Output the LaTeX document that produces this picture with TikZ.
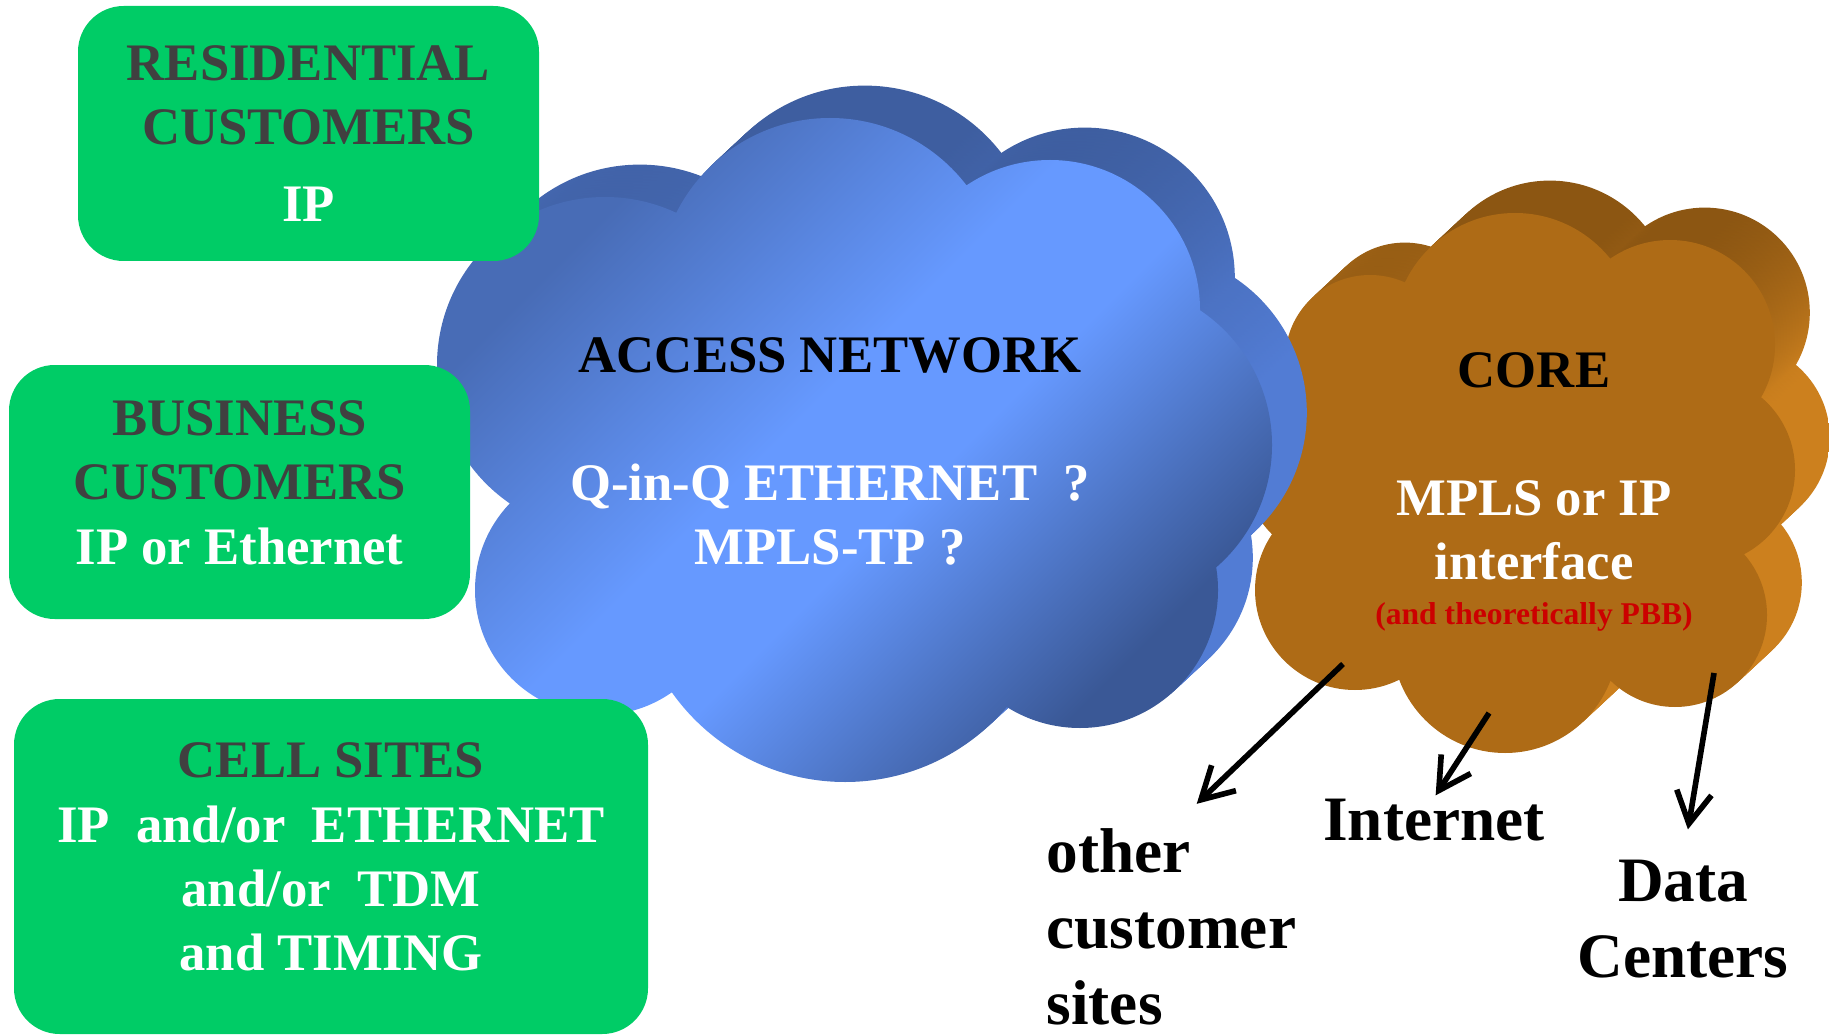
\documentclass[tikz,border=0pt]{standalone}
\usepackage{fontspec}
\setmainfont{Liberation Serif}
\usetikzlibrary{arrows.meta}

\definecolor{boxgreen}{RGB}{0,204,102}
\definecolor{boxtext}{RGB}{64,64,64}
\definecolor{bluelight}{RGB}{102,153,255}
\definecolor{bluetop}{RGB}{72,108,182}
\definecolor{bluedark}{RGB}{58,88,150}
\definecolor{blueedge}{RGB}{62,94,160}
\definecolor{blueside}{RGB}{82,124,212}
\definecolor{coreface}{RGB}{174,107,22}
\definecolor{coretop}{RGB}{140,86,18}
\definecolor{coreside}{RGB}{204,128,30}
\definecolor{pbbred}{RGB}{204,0,0}

%% face of the access cloud: broad light middle, darker corners
\pgfdeclareverticalshading{accessface}{100bp}{color(0bp)=(bluedark); color(27bp)=(bluedark); color(45bp)=(bluelight); color(54bp)=(bluelight); color(73bp)=(bluetop); color(100bp)=(bluetop)}
%% sides of the clouds: dark rim on top, lighter down the right
\pgfdeclareverticalshading{accessdepth}{100bp}{color(0bp)=(blueside); color(55bp)=(blueside); color(72bp)=(blueedge); color(100bp)=(blueedge)}
\pgfdeclareverticalshading{coredepth}{100bp}{color(0bp)=(coreside); color(57bp)=(coreside); color(72bp)=(coretop); color(100bp)=(coretop)}

%% depth of the clouds (px per step, steps go up and right)
\newcommand{\cloudstepx}{2.9}
\newcommand{\cloudstepy}{2.7}

%% puffs of the two clouds, one unit = 1px
\newcommand{\accesspuffs}{(860,450) ellipse (300 and 220)
  (605,365) circle (168) (830,290) circle (172) (1050,310) circle (150)
  (1110,445) circle (162) (1080,590) circle (138) (845,570) circle (212)
  (600,590) circle (125)}
\newcommand{\corepuffs}{(1530,470) ellipse (200 and 170)
  (1370,360) circle (85) (1515,335) circle (122) (1670,345) circle (105)
  (1700,470) circle (95) (1675,615) circle (92) (1505,640) circle (113)
  (1355,590) circle (100) (1335,470) circle (90)}

\begin{document}
\begin{tikzpicture}[x=0.1mm,y=-0.1mm]
\tikzstyle{custbox}=[fill=boxgreen,rounded corners=13pt,align=center,inner sep=0pt,text=boxtext,font=\fontsize{15}{18.3}\selectfont\bfseries]
\tikzstyle{cloudtext}=[align=center,inner sep=0pt,font=\fontsize{15}{18.2}\selectfont\bfseries]
\tikzstyle{sitelabel}=[inner sep=0pt,font=\fontsize{18}{21.6}\selectfont\bfseries]
\tikzstyle{pointer}=[line width=1.6pt,-{Straight Barb[length=9pt,width=10pt]}]

\useasboundingbox (0,0) rectangle (1829,1036);

%% core cloud: depth first, then the face
\foreach \k in {12,...,1}
  \shade[shading=coredepth,shift={(\k*\cloudstepx,-\k*\cloudstepy)}] \corepuffs;
\fill[coreface] \corepuffs;

%% access cloud (in front of the core)
\foreach \k in {12,...,1}
  \shade[shading=accessdepth,shift={(\k*\cloudstepx,-\k*\cloudstepy)}] \accesspuffs;
\shade[shading=accessface,shading angle=45] \accesspuffs;

%% customer boxes
\node[custbox,minimum width=46.1mm,minimum height=25.5mm] (resid) at (308.5,133.5)
  {RESIDENTIAL\\CUSTOMERS\\[1.2mm]\textcolor{white}{IP}};
\node[custbox,minimum width=46.1mm,minimum height=25.4mm] (busi) at (239.5,492)
  {BUSINESS\\CUSTOMERS\\\textcolor{white}{IP or Ethernet}\strut};
\node[custbox,minimum width=63.4mm,minimum height=33.5mm] (cell) at (331,866.5)
  {CELL SITES\\\textcolor{white}{IP\ \ and/or\ \ ETHERNET}\\\textcolor{white}{and/or\ \ TDM}\\\textcolor{white}{and TIMING}\strut};

%% cloud texts
\node[cloudtext] (access) at (830,451)
  {ACCESS NETWORK\\[18.2pt]\textcolor{white}{Q-in-Q ETHERNET\ \ ?}\\\textcolor{white}{MPLS-TP ?}};
\node[cloudtext] (core) at (1534,492)
  {CORE\\[18.2pt]\textcolor{white}{MPLS or IP}\\\textcolor{white}{interface}\\[-1.9mm]{\fontsize{9}{11}\selectfont\textcolor{pbbred}{(and theoretically PBB)}}};

%% where the core goes
\node[sitelabel,align=left,anchor=north west] (others) at (1046,828) {other\\customer\\sites};
\node[sitelabel,anchor=base] (inet) at (1434,840) {Internet};
\node[sitelabel,align=center,anchor=north] (dc) at (1683,859) {Data\\Centers};

\coordinate (tailA) at (1343,664);
\coordinate (tailB) at (1489,713);
\coordinate (tailC) at (1714,673);
\draw[pointer,shorten >=3.5mm] (tailA) -- (others.north);
\draw[pointer,shorten >=0.3mm] (tailB) -- (inet.north);
\draw[pointer,shorten >=3mm] (tailC) -- (dc.north);

\end{tikzpicture}
\end{document}
